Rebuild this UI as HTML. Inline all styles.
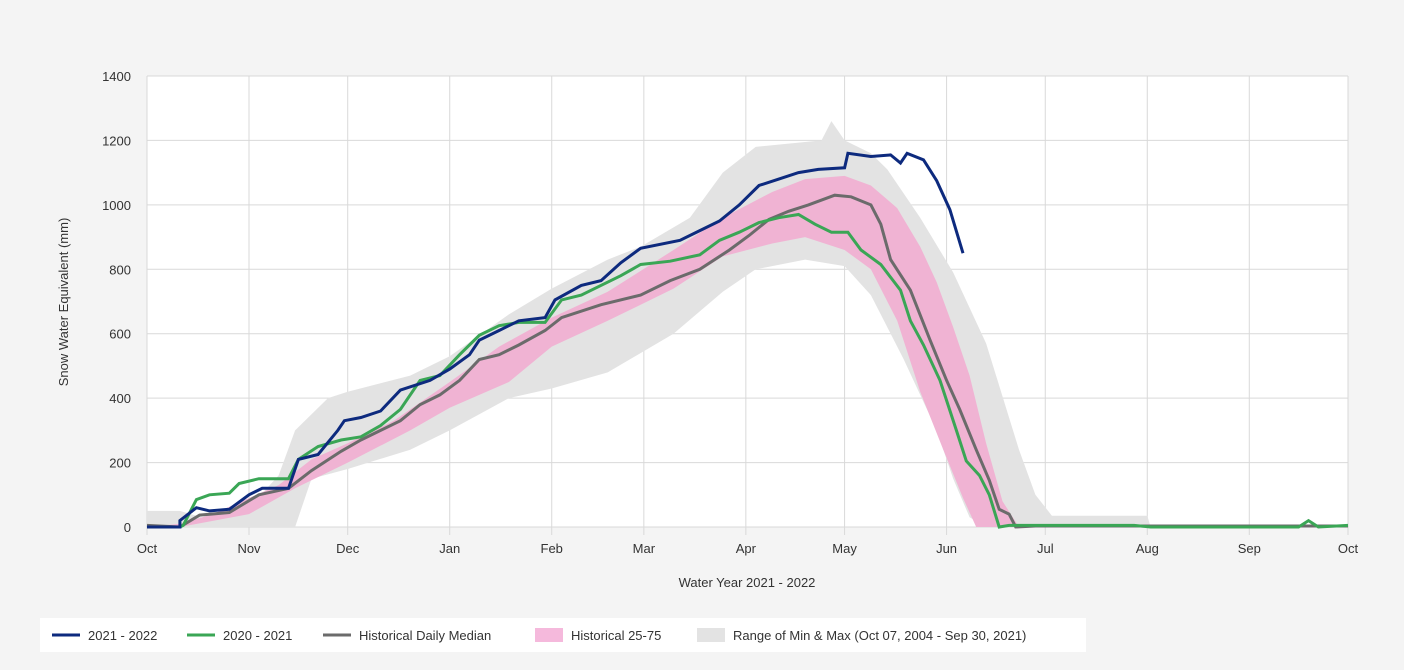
<!DOCTYPE html>
<html><head><meta charset="utf-8"><style>
body{margin:0;background:#f4f4f4;width:1404px;height:670px;overflow:hidden;font-family:"Liberation Sans",sans-serif}
svg{position:absolute;left:0;top:0}
</style></head><body>
<svg id="chart" width="1404" height="670">
<rect x="147" y="76" width="1201" height="451" fill="#fff"/>
<g id="grid"></g><g id="bands"></g><g id="lines"></g><g id="axes"></g>
<text x="747" y="587" text-anchor="middle" font-size="13" fill="#333">Water Year 2021 - 2022</text>
<text transform="translate(68,302) rotate(-90)" text-anchor="middle" font-size="13" fill="#333">Snow Water Equivalent (mm)</text>
<g>
<rect x="40" y="618" width="1046" height="34" fill="#fff"/>
<g><line x1="52" y1="635" x2="80" y2="635" stroke="#0d2a7e" stroke-width="3"/><text x="88" y="640" font-size="13" fill="#333">2021 - 2022</text></g>
<g><line x1="187" y1="635" x2="215" y2="635" stroke="#3aa655" stroke-width="3"/><text x="223" y="640" font-size="13" fill="#333">2020 - 2021</text></g>
<g><line x1="323" y1="635" x2="351" y2="635" stroke="#6b6b6b" stroke-width="3"/><text x="359" y="640" font-size="13" fill="#333">Historical Daily Median</text></g>
<g><rect x="535" y="628" width="28" height="14" fill="#f5b9dc"/><text x="571" y="640" font-size="13" fill="#333">Historical 25-75</text></g>
<g><rect x="697" y="628" width="28" height="14" fill="#e3e3e3"/><text x="733" y="640" font-size="13" fill="#333">Range of Min &amp; Max (Oct 07, 2004 - Sep 30, 2021)</text></g>
</g>
</svg>
<script>
const monthLabels=["Oct","Nov","Dec","Jan","Feb","Mar","Apr","May","Jun","Jul","Aug","Sep","Oct"];
const monthDays=[0,31,61,92,123,151,182,212,243,273,304,335,365];
const yTicks=[0,200,400,600,800,1000,1200,1400];
const wy2022=[[0,0],[10,0],[10,20],[15,60],[19,50],[25,55],[31,100],[35,120],[43,120],[46,210],[52,225],[58,300],[60,330],[65,340],[71,360],[77,425],[86,455],[92,490],[98,535],[101,580],[107,610],[113,640],[121,650],[124,705],[132,750],[138,765],[144,820],[150,865],[162,890],[168,920],[174,950],[180,1000],[186,1060],[192,1080],[198,1100],[204,1110],[212,1115],[213,1160],[220,1150],[226,1155],[229,1130],[231,1160],[236,1140],[240,1075],[244,985],[248,850]];
const wy2021=[[0,0],[10,0],[11,5],[15,85],[19,100],[25,105],[28,135],[34,150],[43,150],[46,210],[52,250],[59,270],[65,280],[71,315],[77,365],[83,455],[89,470],[95,535],[101,595],[107,625],[113,635],[121,635],[126,705],[132,720],[144,780],[150,815],[159,825],[168,845],[174,890],[180,915],[186,945],[192,960],[198,970],[203,940],[208,915],[213,915],[217,860],[223,815],[229,735],[232,640],[236,565],[241,455],[246,300],[249,205],[253,160],[256,100],[259,0],[262,5],[300,5],[305,0],[350,0],[353,20],[356,0],[365,5]];
const median=[[0,5],[10,0],[16,37],[25,45],[34,100],[43,120],[50,175],[59,235],[65,270],[71,300],[77,330],[83,380],[89,410],[95,455],[101,520],[107,535],[113,565],[121,610],[126,650],[138,690],[150,720],[159,765],[168,800],[177,860],[183,905],[189,955],[195,980],[201,1000],[209,1030],[214,1025],[220,1000],[223,940],[226,830],[232,735],[238,580],[243,455],[247,365],[252,240],[256,145],[259,55],[262,40],[264,0],[270,3],[365,3]];
const p75=[[0,0],[10,10],[20,40],[31,90],[40,130],[50,210],[61,260],[75,330],[92,450],[107,560],[123,650],[140,730],[160,860],[175,960],[190,1040],[200,1080],[212,1090],[220,1060],[228,990],[235,870],[240,760],[245,620],[250,470],[255,260],[260,80],[265,0],[365,0]];
const p25=[[0,0],[10,0],[31,40],[45,120],[61,200],[80,300],[92,370],[110,450],[123,560],[140,640],[160,740],[175,840],[190,880],[200,900],[212,860],[220,800],[228,640],[235,420],[242,240],[248,90],[252,0],[365,0]];
const maxV=[[0,50],[10,50],[20,20],[31,60],[40,160],[45,300],[55,400],[61,420],[80,470],[92,530],[110,660],[123,740],[140,830],[150,870],[165,960],[175,1100],[185,1180],[195,1190],[205,1200],[208,1260],[212,1200],[220,1160],[225,1110],[235,960],[245,790],[255,570],[265,240],[270,100],[275,35],[304,35],[305,0],[365,0]];
const minV=[[0,0],[45,0],[50,150],[61,180],[80,240],[92,300],[110,400],[123,430],[140,480],[160,600],[175,730],[185,800],[200,830],[212,810],[220,720],[230,520],[240,300],[245,150],[250,30],[255,0],[365,0]];
const X=d=>147+d*1201/365, Y=v=>527-v*451/1400;
const NS="http://www.w3.org/2000/svg";
function mk(tag,parent,attrs){const e=document.createElementNS(NS,tag);for(const k in attrs)e.setAttribute(k,attrs[k]);document.getElementById(parent).appendChild(e);return e;}
const pts=a=>a.map(p=>X(p[0]).toFixed(1)+","+Y(p[1]).toFixed(1)).join(" ");
yTicks.forEach(t=>{
  const l=mk("line","grid",{x1:147,x2:1348,y1:Y(t),y2:Y(t),stroke:"#d9d9d9"});
  
  
  const tx=mk("text","axes",{x:131,y:Y(t)+5,"text-anchor":"end","font-size":13,fill:"#333"});tx.textContent=t;
  
  
});
monthDays.forEach((d,i)=>{
  const l=mk("line","grid",{x1:X(d),x2:X(d),y1:76,y2:535,stroke:"#d9d9d9"});
  
  
  const tx=mk("text","axes",{x:X(d),y:553,"text-anchor":"middle","font-size":13,fill:"#333"});tx.textContent=monthLabels[i];
  
  
});
const g1=mk("polygon","bands",{points:pts(maxV)+" "+pts(minV.slice().reverse()),fill:"#e3e3e3"});


const g2=mk("polygon","bands",{points:pts(p75)+" "+pts(p25.slice().reverse()),fill:"#f0b3d3"});


const m=mk("polyline","lines",{points:pts(median),fill:"none",stroke:"#6b6b6b","stroke-width":3});


const g=mk("polyline","lines",{points:pts(wy2021),fill:"none",stroke:"#3aa655","stroke-width":3});


const b=mk("polyline","lines",{points:pts(wy2022),fill:"none",stroke:"#0d2a7e","stroke-width":3});


</script>
</body></html>
